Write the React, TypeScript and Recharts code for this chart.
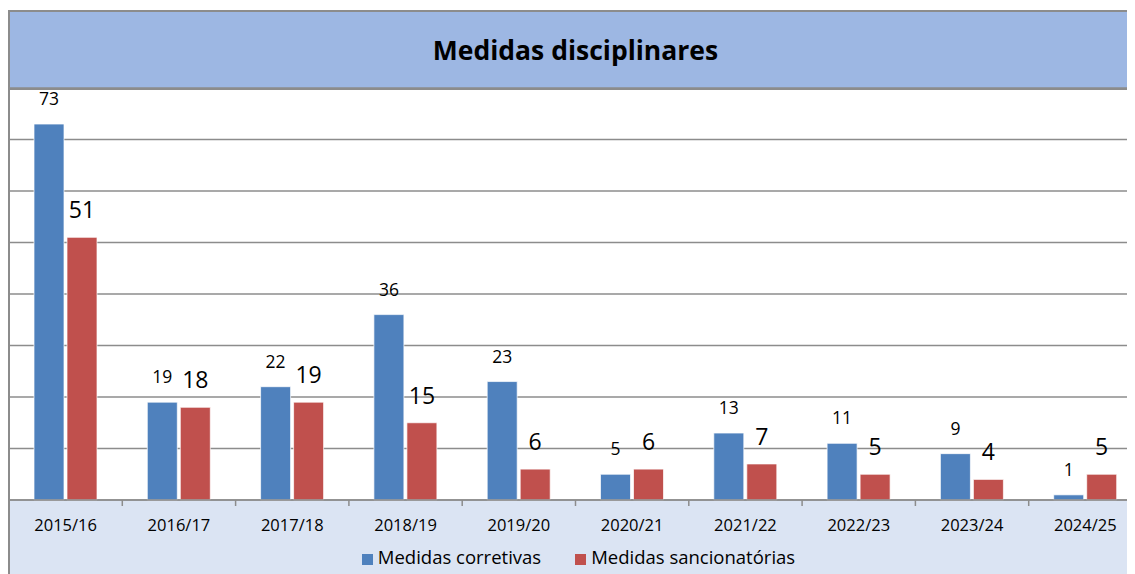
import { BarChart, Bar, XAxis, YAxis, CartesianGrid, Legend, LabelList } from "recharts";

const anos = ["2015/16", "2016/17", "2017/18", "2018/19", "2019/20", "2020/21", "2021/22", "2022/23", "2023/24", "2024/25"];
const corretivas = [73, 19, 22, 36, 23, 5, 13, 11, 9, 1];
const sancionatorias = [51, 18, 19, 15, 6, 6, 7, 5, 4, 5];
const yTicks = [0, 10, 20, 30, 40, 50, 60, 70, 80];

const data = anos.map((ano, i) => ({
  ano,
  corretivas: corretivas[i],
  sancionatorias: sancionatorias[i],
}));

const FONT = "'Open Sans', 'Liberation Sans', sans-serif";
const W = 1150;
const H = 566;
const margin = { top: 80, right: 16, left: 1, bottom: 4 };
const band = (W - margin.left - margin.right) / anos.length;

const AnoTick = (props: any) => {
  const { x, y, payload } = props;
  return (
    <g>
      <line x1={x - band / 2} x2={x - band / 2} y1={y - 8} y2={y - 2} stroke="#8c8c8c" strokeWidth={1.5} />
      <text x={x} y={y + 23} textAnchor="middle" fontSize={16.5} fill="#000" fontFamily={FONT}>
        {payload.value}
      </text>
    </g>
  );
};

export default function App() {
  return (
    <div style={{ position: "relative", width: 1127, height: H, overflow: "hidden", fontFamily: FONT }}>
      <div
        style={{
          position: "absolute",
          left: 0,
          top: 2,
          width: 1135,
          height: 76,
          background: "#9db7e3",
          borderTop: "2px solid #8c8c8c",
          borderBottom: "2px solid #8c8c8c",
          display: "flex",
          alignItems: "center",
          justifyContent: "center",
          fontWeight: 700,
          fontSize: 26.5,
          color: "#000",
        }}
      >
        Medidas disciplinares
      </div>
      <div style={{ position: "absolute", left: 0, top: 492, width: 1135, bottom: 0, background: "#dbe4f3" }} />
      <div style={{ position: "absolute", left: 0, top: 2, width: 2, bottom: 0, background: "#8c8c8c" }} />
      <div style={{ position: "absolute", left: 0, top: 0 }}>
        <BarChart width={W} height={H} data={data} margin={margin} barSize={30} barGap={3}>
          <CartesianGrid vertical={false} stroke="#8c8c8c" strokeWidth={1.5} />
          <YAxis
            width={0}
            domain={[0, 80]}
            ticks={yTicks}
            interval={0}
            tick={{ fill: "none", fontSize: 1 }}
            axisLine={false}
            tickLine={false}
          />
          <XAxis
            dataKey="ano"
            height={44}
            interval={0}
            tick={<AnoTick />}
            tickLine={false}
            axisLine={{ stroke: "#8c8c8c", strokeWidth: 1.5 }}
          />
          <Legend
            verticalAlign="bottom"
            iconType="square"
            iconSize={11}
            wrapperStyle={{ fontSize: 18.5, lineHeight: "26px", paddingLeft: 8 }}
            formatter={(value: string, _entry: any, index: number) => (
              <span style={{ color: "#000", marginLeft: 1, marginRight: index === 0 ? 24 : 0 }}>{value}</span>
            )}
          />
          <Bar dataKey="corretivas" name="Medidas corretivas" fill="#4f81bd" stroke="#ffffff" strokeOpacity={0.7} isAnimationActive={false}>
            <LabelList dataKey="corretivas" position="top" offset={19} fontSize={17.5} fill="#000" fontFamily={FONT} />
          </Bar>
          <Bar dataKey="sancionatorias" name="Medidas sancionatórias" fill="#c0504d" stroke="#ffffff" strokeOpacity={0.7} isAnimationActive={false}>
            <LabelList dataKey="sancionatorias" position="top" offset={19} fontSize={23} fill="#000" fontFamily={FONT} />
          </Bar>
        </BarChart>
      </div>
    </div>
  );
}
